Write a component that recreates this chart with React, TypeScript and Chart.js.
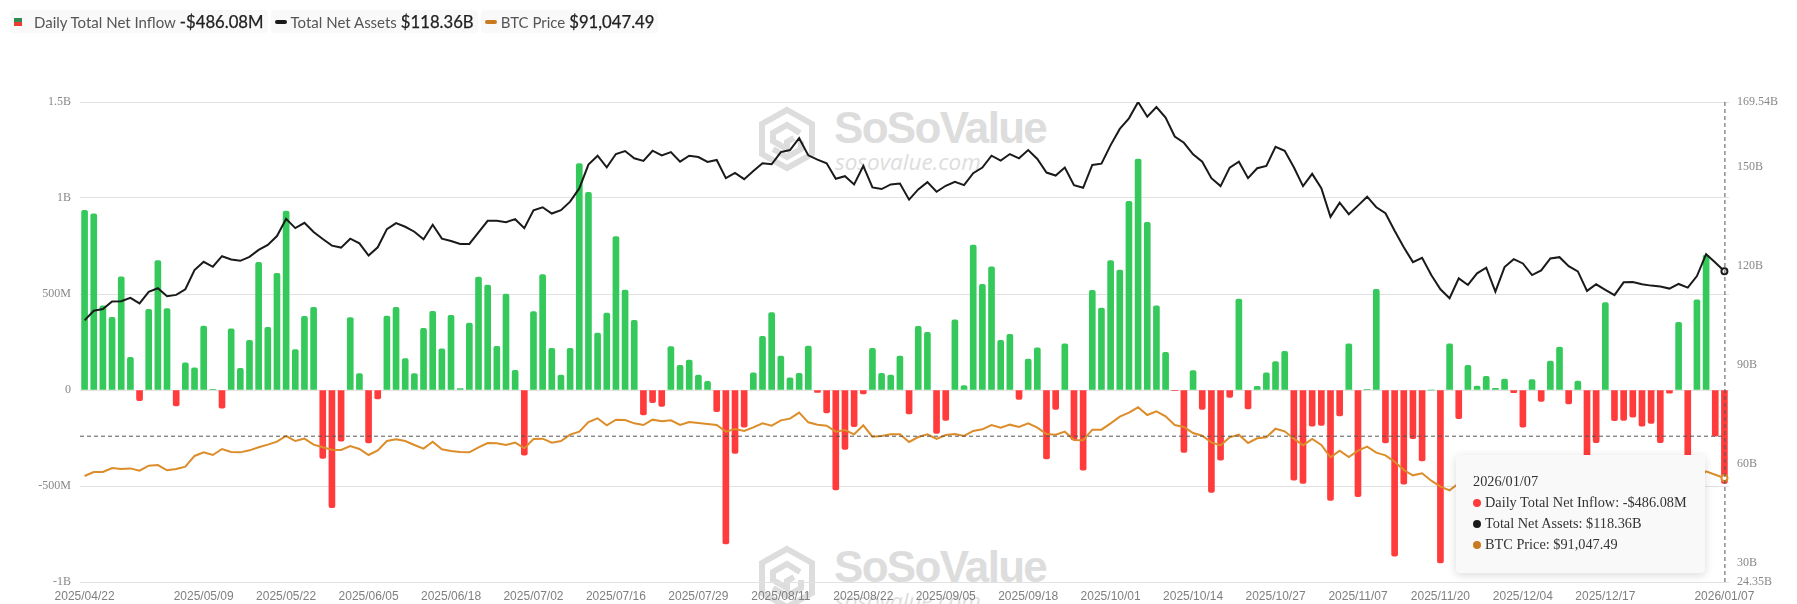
import { useEffect, useRef } from "react";
import { Chart, registerables } from "chart.js";

Chart.register(...registerables);

const dates = [
  "2025/04/22", "2025/04/23", "2025/04/24", "2025/04/25", "2025/04/28", "2025/04/29", "2025/04/30",
  "2025/05/01", "2025/05/02", "2025/05/05", "2025/05/06", "2025/05/07", "2025/05/08", "2025/05/09",
  "2025/05/12", "2025/05/13", "2025/05/14", "2025/05/15", "2025/05/16", "2025/05/19", "2025/05/20",
  "2025/05/21", "2025/05/22", "2025/05/23", "2025/05/27", "2025/05/28", "2025/05/29", "2025/05/30",
  "2025/06/02", "2025/06/03", "2025/06/04", "2025/06/05", "2025/06/06", "2025/06/09", "2025/06/10",
  "2025/06/11", "2025/06/12", "2025/06/13", "2025/06/16", "2025/06/17", "2025/06/18", "2025/06/20",
  "2025/06/23", "2025/06/24", "2025/06/25", "2025/06/26", "2025/06/27", "2025/06/30", "2025/07/01",
  "2025/07/02", "2025/07/03", "2025/07/07", "2025/07/08", "2025/07/09", "2025/07/10", "2025/07/11",
  "2025/07/14", "2025/07/15", "2025/07/16", "2025/07/17", "2025/07/18", "2025/07/21", "2025/07/22",
  "2025/07/23", "2025/07/24", "2025/07/25", "2025/07/28", "2025/07/29", "2025/07/30", "2025/07/31",
  "2025/08/01", "2025/08/04", "2025/08/05", "2025/08/06", "2025/08/07", "2025/08/08", "2025/08/11",
  "2025/08/12", "2025/08/13", "2025/08/14", "2025/08/15", "2025/08/18", "2025/08/19", "2025/08/20",
  "2025/08/21", "2025/08/22", "2025/08/25", "2025/08/26", "2025/08/27", "2025/08/28", "2025/08/29",
  "2025/09/02", "2025/09/03", "2025/09/04", "2025/09/05", "2025/09/08", "2025/09/09", "2025/09/10",
  "2025/09/11", "2025/09/12", "2025/09/15", "2025/09/16", "2025/09/17", "2025/09/18", "2025/09/19",
  "2025/09/22", "2025/09/23", "2025/09/24", "2025/09/25", "2025/09/26", "2025/09/29", "2025/09/30",
  "2025/10/01", "2025/10/02", "2025/10/03", "2025/10/06", "2025/10/07", "2025/10/08", "2025/10/09",
  "2025/10/10", "2025/10/13", "2025/10/14", "2025/10/15", "2025/10/16", "2025/10/17", "2025/10/20",
  "2025/10/21", "2025/10/22", "2025/10/23", "2025/10/24", "2025/10/27", "2025/10/28", "2025/10/29",
  "2025/10/30", "2025/10/31", "2025/11/03", "2025/11/04", "2025/11/05", "2025/11/06", "2025/11/07",
  "2025/11/10", "2025/11/11", "2025/11/12", "2025/11/13", "2025/11/14", "2025/11/17", "2025/11/18",
  "2025/11/19", "2025/11/20", "2025/11/21", "2025/11/24", "2025/11/25", "2025/11/26", "2025/11/28",
  "2025/12/01", "2025/12/02", "2025/12/03", "2025/12/04", "2025/12/05", "2025/12/08", "2025/12/09",
  "2025/12/10", "2025/12/11", "2025/12/12", "2025/12/15", "2025/12/16", "2025/12/17", "2025/12/18",
  "2025/12/19", "2025/12/22", "2025/12/23", "2025/12/24", "2025/12/26", "2025/12/29", "2025/12/30",
  "2025/12/31", "2026/01/02", "2026/01/05", "2026/01/06", "2026/01/07",
];

const tickDates = [
  "2025/04/22", "2025/05/09", "2025/05/22", "2025/06/05", "2025/06/18", "2025/07/02", "2025/07/16",
  "2025/07/29", "2025/08/11", "2025/08/22", "2025/09/05", "2025/09/18", "2025/10/01", "2025/10/14",
  "2025/10/27", "2025/11/07", "2025/11/20", "2025/12/04", "2025/12/17", "2026/01/07",
];

// millions of USD
const netInflow = [
  936, 917, 439, 378, 590, 170, -56, 420, 674, 424,
  -83, 141, 115, 333, 4, -95, 318, 113, 259, 665,
  326, 608, 932, 210, 384, 430, -356, -613, -266, 377,
  85, -276, -47, 385, 430, 163, 85, 321, 410, 215,
  389, 7, 349, 588, 547, 227, 500, 102, -340, 408,
  601, 217, 78, 217, 1179, 1029, 297, 401, 799, 521,
  363, -130, -66, -85, 226, 128, 156, 78, 45, -113,
  -802, -330, -194, 90, 279, 403, 177, 64, 87, 229,
  -12, -120, -521, -309, -191, -21, 217, 87, 78, 177,
  -125, 332, 300, -226, -158, 366, 23, 755, 550, 641,
  259, 290, -49, 161, 220, -359, -101, 240, -260, -417,
  519, 427, 674, 625, 983, 1203, 873, 439, 196, -4,
  -325, 101, -101, -533, -365, -38, 474, -99, 19, 89,
  148, 201, -469, -486, -189, -184, -575, -135, 240, -556,
  3, 524, -276, -865, -490, -253, -370, 0, -900, 240,
  -149, 128, 21, 71, 9, 57, -14, -193, 54, -59,
  151, 224, -73, 47, -450, -274, 455, -160, -158, -141,
  -188, -174, -274, -17, 352, -420, 470, 703, -240, -486.08,
];

// billions of USD
const netAssets = [
  103.5, 106.4, 106.9, 109.2, 109.3, 110.3, 108.6, 112.1, 113.2, 110.8,
  111.2, 112.9, 118.7, 121.2, 119.7, 122.9, 121.9, 121.5, 122.7, 124.8,
  126.3, 129.0, 134.2, 131.4, 133.0, 130.2, 128.1, 126.1, 125.5, 128.2,
  126.8, 123.1, 125.6, 131.1, 132.9, 131.8, 130.3, 128.0, 132.4, 128.2,
  127.5, 126.6, 126.6, 130.1, 133.6, 133.6, 133.2, 134.1, 131.4, 136.8,
  137.7, 135.8, 136.8, 139.4, 143.4, 150.6, 153.3, 149.8, 153.8, 154.7,
  152.5, 151.7, 154.8, 153.4, 154.4, 151.5, 153.3, 152.9, 151.4, 152.0,
  146.5, 148.1, 146.2, 148.7, 151.0, 150.7, 154.4, 155.0, 158.6, 153.4,
  152.1, 151.0, 146.3, 147.1, 144.6, 150.2, 143.7, 143.2, 144.6, 144.9,
  140.0, 143.1, 145.3, 142.4, 144.2, 145.4, 144.4, 148.0, 149.7, 153.3,
  151.8, 153.8, 152.5, 155.0, 152.3, 148.2, 147.3, 149.7, 144.4, 143.6,
  150.5, 150.9, 156.5, 161.4, 164.6, 169.54, 165.1, 168.0, 164.8, 159.1,
  157.2, 153.7, 151.5, 146.5, 144.1, 149.7, 151.5, 146.5, 149.5, 150.2,
  156.0, 154.8, 149.8, 144.1, 147.8, 143.5, 134.8, 139.1, 135.6, 138.2,
  140.9, 137.7, 135.9, 130.6, 125.6, 121.1, 122.4, 117.2, 112.9, 110.2,
  116.2, 114.2, 117.7, 119.4, 112.2, 119.6, 122.0, 120.7, 117.2, 118.6,
  122.2, 122.6, 119.9, 118.3, 112.4, 114.4, 112.7, 111.1, 115.0, 115.1,
  114.4, 114.0, 113.7, 113.1, 114.5, 113.4, 116.9, 123.5, 121.0, 118.36,
];

const btcPrice = [
  92000, 93900, 93900, 95800, 95300, 95600, 94500, 96900, 97200, 94700,
  95300, 96400, 101500, 103200, 101950, 104800, 103400, 103200, 104160, 105600,
  106850, 108270, 110950, 108580, 109700, 106850, 105600, 104480, 104320, 106200,
  104800, 101950, 104160, 108580, 109375, 108580, 106690, 104950, 108270, 104640,
  103850, 103370, 103200, 105600, 107640, 107480, 106690, 107800, 105100, 109530,
  109690, 107800, 108580, 111590, 113000, 117600, 119330, 116000, 118700, 118540,
  116960, 116170, 118700, 117900, 118380, 116170, 117600, 117120, 116640, 116170,
  113010, 114270, 113330, 115060, 116960, 115850, 118380, 119170, 122020, 117430,
  116330, 115850, 113010, 113800, 111750, 116010, 110640, 110960, 111750, 111750,
  108110, 110480, 111750, 109530, 111430, 111900, 110960, 113330, 114120, 116170,
  114900, 116330, 115220, 116960, 114900, 111900, 111590, 113010, 109060, 108900,
  113960, 113960, 116960, 120120, 122020, 124540, 120910, 122650, 120280, 116170,
  115220, 112380, 111110, 107950, 106530, 110320, 111590, 107640, 109850, 110320,
  114430, 113170, 109690, 106530, 109530, 106690, 100840, 104000, 101000, 104000,
  105900, 103060, 101790, 98790, 94840, 92310, 93260, 89780, 86940, 85200,
  88520, 87500, 90500, 91000, 86500, 91300, 93500, 92000, 89500, 90500,
  92700, 92000, 92500, 90000, 86400, 87800, 86200, 85500, 88000, 88600,
  87400, 87600, 87300, 87200, 88500, 87500, 89900, 94175, 92600, 91047.49,
];

const rightTicks = [169.54, 150, 120, 90, 60, 30, 24.35];

const GREEN = "#34c95a";
const RED = "#ff3b3b";
const BLACK = "#1a1a1a";
const ORANGE = "#dc8c28";

const hoverIndex = dates.length - 1;
const crosshairValue = -238; // where the pointer sits on the left axis

const fmtLeft = (v: number) => {
  if (v === 0) return "0";
  return Math.abs(v) >= 1000 ? `${v / 1000}B` : `${v}M`;
};

const crosshair = {
  id: "crosshair",
  afterDatasetsDraw(chart: Chart) {
    const { ctx, chartArea, scales } = chart;
    const x = scales.x.getPixelForValue(hoverIndex);
    const y = scales.y.getPixelForValue(crosshairValue);
    ctx.save();
    ctx.strokeStyle = "#555";
    ctx.lineWidth = 1;
    ctx.setLineDash([4, 3]);
    ctx.beginPath();
    ctx.moveTo(chartArea.left, y + 0.5);
    ctx.lineTo(x, y + 0.5);
    ctx.moveTo(x + 0.5, chartArea.top);
    ctx.lineTo(x + 0.5, chartArea.bottom);
    ctx.stroke();
    ctx.restore();
  },
};

function Watermark({ top }: { top: number }) {
  return (
    <div style={{ position: "absolute", left: 758, top, width: 320, height: 70, color: "#dddddd" }}>
      <svg width="58" height="66" viewBox="0 0 58 66" style={{ position: "absolute", left: 0, top: 0 }}>
        <g fill="none" stroke="#dddddd" strokeWidth="6">
          <polygon points="29,4 54,18 54,48 29,62 4,48 4,18" />
          <polyline points="42,27 29,19 15,27 15,35 29,43 29,36 36,32" />
          <polyline points="15,43 29,51 43,43 43,35" />
        </g>
      </svg>
      <div
        style={{
          position: "absolute",
          left: 76,
          top: -3,
          font: "bold 44px 'Liberation Sans', sans-serif",
          letterSpacing: -1.7,
          whiteSpace: "nowrap",
        }}
      >
        SoSoValue
      </div>
      <div
        style={{
          position: "absolute",
          left: 77,
          top: 40,
          font: "italic 22.5px 'Open Sans', sans-serif",
          whiteSpace: "nowrap",
        }}
      >
        sosovalue.com
      </div>
    </div>
  );
}

function LegendChip({ icon, label, value }: { icon: React.ReactNode; label: string; value: string }) {
  return (
    <div
      style={{
        display: "flex",
        alignItems: "center",
        height: 23,
        padding: "0 4px",
        background: "#f9f9f9",
        borderRadius: 4,
        fontFamily: "Lato, sans-serif",
        whiteSpace: "nowrap",
      }}
    >
      {icon}
      <span style={{ fontSize: 15, color: "#555555" }}>{label}</span>
      <span style={{ fontSize: 16.7, color: "#222222", marginLeft: 4, WebkitTextStroke: "0.25px #222222" }}>{value}</span>
    </div>
  );
}

function TooltipRow({ color, text }: { color: string; text: string }) {
  return (
    <div style={{ display: "flex", alignItems: "center", height: 21 }}>
      <span style={{ width: 8, height: 8, borderRadius: "50%", background: color, marginRight: 4 }} />
      <span>{text}</span>
    </div>
  );
}

export default function App() {
  const canvasRef = useRef<HTMLCanvasElement>(null);

  useEffect(() => {
    if (!canvasRef.current) return;

    const chart = new Chart(canvasRef.current, {
      type: "bar",
      data: {
        labels: dates,
        datasets: [
          {
            type: "line",
            label: "Total Net Assets",
            data: netAssets,
            yAxisID: "y1",
            borderColor: BLACK,
            borderWidth: 2,
            tension: 0,
            pointRadius: (c: any) => (c.dataIndex === hoverIndex ? 3 : 0),
            pointBackgroundColor: "#fff",
            pointBorderColor: BLACK,
            pointBorderWidth: 2,
            order: 1,
          },
          {
            type: "line",
            label: "BTC Price",
            data: btcPrice,
            yAxisID: "y2",
            borderColor: ORANGE,
            borderWidth: 2,
            tension: 0,
            pointRadius: (c: any) => (c.dataIndex === hoverIndex ? 3 : 0),
            pointBackgroundColor: "#fff",
            pointBorderColor: ORANGE,
            pointBorderWidth: 2,
            order: 2,
          },
          {
            type: "bar",
            label: "Daily Total Net Inflow",
            data: netInflow,
            yAxisID: "y",
            backgroundColor: netInflow.map((v) => (v >= 0 ? GREEN : RED)),
            barThickness: 6,
            borderRadius: 2,
            order: 3,
          },
        ],
      },
      options: {
        animation: false,
        responsive: false,
        events: [],
        layout: { padding: { top: 102 } },
        plugins: { legend: { display: false }, tooltip: { enabled: false } },
        scales: {
          x: {
            offset: true,
            grid: { display: false, drawTicks: false },
            border: { display: false },
            afterFit: (s: any) => {
              s.height = 22;
            },
            ticks: {
              autoSkip: false,
              maxRotation: 0,
              minRotation: 0,
              padding: 7,
              color: "#7f7f7f",
              font: { family: "'Liberation Sans', sans-serif", size: 12 },
              callback: (_v: any, i: number) => (tickDates.includes(dates[i]) ? dates[i] : null),
            },
          },
          y: {
            position: "left",
            min: -1000,
            max: 1500,
            grid: { color: "#e2e2e2", drawTicks: false },
            border: { display: false },
            afterFit: (s: any) => {
              s.width = 80;
            },
            ticks: {
              stepSize: 500,
              padding: 9,
              color: "#888888",
              font: { family: "'Liberation Serif', serif", size: 12 },
              callback: (v: any) => fmtLeft(Number(v)),
            },
          },
          y1: {
            position: "right",
            min: 24.35,
            max: 169.54,
            grid: { display: false, drawTicks: false },
            border: { display: false },
            afterFit: (s: any) => {
              s.width = 68;
            },
            afterBuildTicks: (s: any) => {
              s.ticks = rightTicks.map((value) => ({ value }));
            },
            ticks: {
              padding: 8,
              color: "#888888",
              font: { family: "'Liberation Serif', serif", size: 12 },
              callback: (v: any) => `${v}B`,
            },
          },
          y2: { display: false, min: 41750, max: 269270 },
        },
      },
      plugins: [crosshair],
    } as any);

    return () => chart.destroy();
  }, []);

  return (
    <div style={{ position: "fixed", left: 0, top: 0, width: 1797, height: 604, overflow: "hidden", background: "#fff" }}>
      <Watermark top={106} />
      <Watermark top={545} />
      <canvas ref={canvasRef} width={1797} height={604} style={{ position: "absolute", left: 0, top: 0 }} />

      <div style={{ position: "absolute", left: 10, top: 10, display: "flex", gap: 3 }}>
        <LegendChip
          icon={
            <span style={{ width: 8, height: 8, marginLeft: 0, marginRight: 12, background: "linear-gradient(#2e8b57 50%, #ee3b32 50%)" }} />
          }
          label="Daily Total Net Inflow"
          value="-$486.08M"
        />
        <LegendChip
          icon={<span style={{ width: 12, height: 4, borderRadius: 2, background: BLACK, marginRight: 4 }} />}
          label="Total Net Assets"
          value="$118.36B"
        />
        <LegendChip
          icon={<span style={{ width: 12, height: 4, borderRadius: 2, background: "#c97a20", marginRight: 4 }} />}
          label="BTC Price"
          value="$91,047.49"
        />
      </div>

      <div
        style={{
          position: "absolute",
          left: 1456,
          top: 455,
          width: 249,
          height: 118,
          boxSizing: "border-box",
          padding: "16px 0 0 17px",
          background: "#f9f9f9",
          borderRadius: 4,
          boxShadow: "0 2px 10px rgba(0,0,0,0.15)",
          font: "14.3px 'Liberation Serif', serif",
          color: "#333333",
          whiteSpace: "nowrap",
        }}
      >
        <div style={{ height: 21, lineHeight: "21px" }}>{dates[hoverIndex]}</div>
        <TooltipRow color={RED} text="Daily Total Net Inflow: -$486.08M" />
        <TooltipRow color={BLACK} text="Total Net Assets: $118.36B" />
        <TooltipRow color="#c97a20" text="BTC Price: $91,047.49" />
      </div>
    </div>
  );
}
